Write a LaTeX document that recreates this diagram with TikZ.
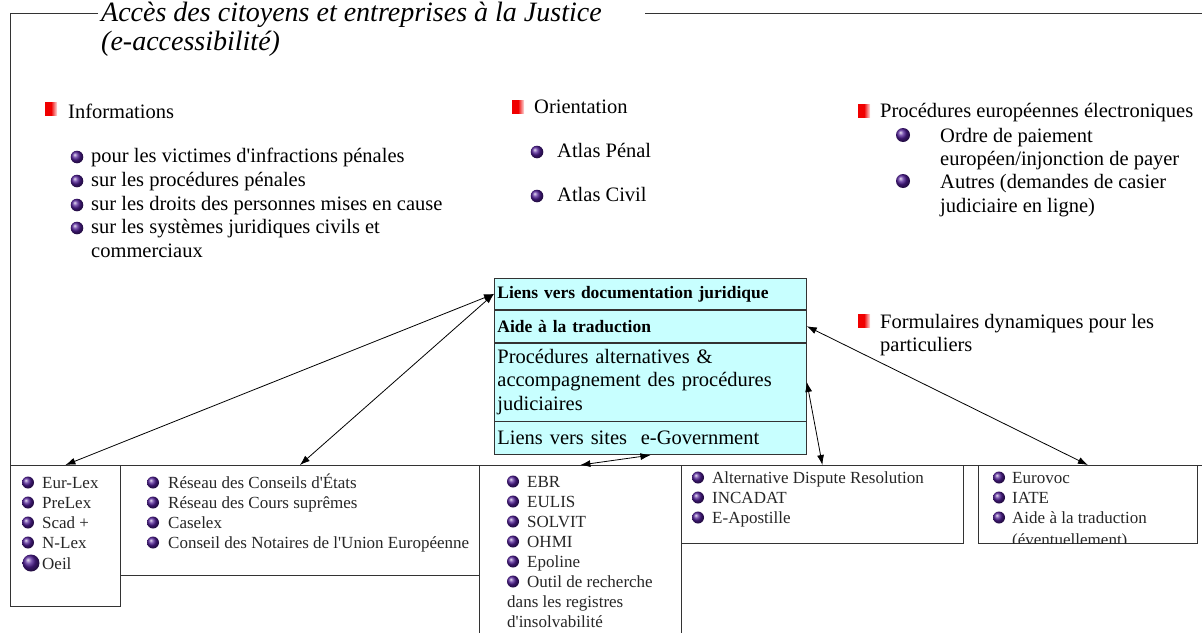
\documentclass[tikz,border=0pt]{standalone}
\usepackage{fontspec}
\setmainfont{Liberation Serif}
\usetikzlibrary{positioning,arrows.meta}
\definecolor{cyanclair}{RGB}{200,255,255}
\definecolor{puceviolet}{RGB}{80,30,150}
\definecolor{rouge}{RGB}{240,0,0}
\newcommand{\apos}{\textquotesingle}
\tikzset{
  pics/puce/.style={
    code={\shade[ball color=puceviolet] (0,0) circle (#1);}
  },
  pics/carre/.style={
    code={\shade[left color=rouge, right color=rouge!12, middle color=rouge] (0,0) rectangle (12,13);}
  },
  titre/.style={font=\fontsize{28pt}{30pt}\selectfont\itshape, anchor=base west, inner sep=0pt},
  texte/.style={font=\fontsize{20.5pt}{23.5pt}\selectfont, anchor=base west, inner sep=0pt},
  petit/.style={font=\fontsize{17pt}{20pt}\selectfont, text=black!85, anchor=base west, inner sep=0pt},
  ligne/.style={draw=black!80, fill=cyanclair, line width=0.8pt, minimum width=312pt, text width=306pt, inner xsep=3pt, inner ysep=0pt, align=left},
  boite/.style={draw=black!80, line width=0.8pt, anchor=north west, inner sep=0pt},
  cadre/.style={draw=black!80, line width=0.8pt},
  lien/.style={{Latex[length=10pt,width=7pt]}-{Latex[length=10pt,width=7pt]}, line width=0.8pt}
}
\begin{document}
\begin{tikzpicture}[x=1pt,y=-1pt]
	\clip (0,0) rectangle (1202,632);

	\node[titre] (titre) at (101,21) {Accès des citoyens et entreprises à la Justice};
	\node[titre] (titre2) at (101,50) {(e-accessibilité)};
	\draw[cadre] (98,13) -- (10,13) -- (10,465) -- (1202,465); %outer frame
	\draw[cadre] (645,13) -- (1202,13);

	%informations
	\pic at (45,102) {carre};
	\node[texte] (info) at (68,118) {Informations};
	\pic at (77,157) {puce=6.3};
	\node[texte] (info1) at (91,162) {pour les victimes d\apos infractions pénales};
	\pic at (77,181) {puce=6.3};
	\node[texte] (info2) at (91,186) {sur les procédures pénales};
	\pic at (77,205) {puce=6.3};
	\node[texte] (info3) at (91,210) {sur les droits des personnes mises en cause};
	\pic at (77,228) {puce=6.3};
	\node[texte] (info4) at (91,233) {sur les systèmes juridiques civils et};
	\node[texte] (info5) at (91,257) {commerciaux};

	%orientation
	\pic at (512,100) {carre};
	\node[texte] (orient) at (534,113) {Orientation};
	\pic at (537,152) {puce=6.3};
	\node[texte] (atlas1) at (557,157) {Atlas Pénal};
	\pic at (537,196) {puce=6.3};
	\node[texte] (atlas2) at (557,201) {Atlas Civil};

	%procedures europeennes
	\pic at (858,104) {carre};
	\node[texte] (proc) at (880,117) {Procédures européennes électroniques};
	\pic at (903,135) {puce=7};
	\node[texte] (proc1) at (940,142) {Ordre de paiement};
	\node[texte] (proc2) at (940,165) {européen/injonction de payer};
	\pic at (903,181) {puce=7};
	\node[texte] (proc3) at (940,188) {Autres (demandes de casier};
	\node[texte] (proc4) at (940,212) {judiciaire en ligne)};

	%formulaires
	\pic at (858,314) {carre};
	\node[texte] (form1) at (880,328) {Formulaires dynamiques pour les};
	\node[texte] (form2) at (880,351) {particuliers};

	%central box
	\node[ligne, anchor=north west, minimum height=31pt, font=\fontsize{17.5pt}{20pt}\selectfont\bfseries] (l1) at (494,278) {Liens vers documentation juridique};
	\node[ligne, below=0pt of l1, minimum height=32pt, font=\fontsize{17.5pt}{20pt}\selectfont\bfseries] (l2) {Aide à la traduction};
	\node[ligne, below=0pt of l2, minimum height=78pt, font=\fontsize{20.5pt}{23.5pt}\selectfont] (l3) {Procédures alternatives \&\\accompagnement des procédures\\judiciaires};
	\node[ligne, below=0pt of l3, minimum height=33pt, font=\fontsize{20.5pt}{23.5pt}\selectfont] (l4) {Liens vers sites\ \ e-Government};

	%boxes at the bottom
	\node[boite, minimum width=110pt, minimum height=141pt] (eurlex) at (10,465) {};
	\node[boite, minimum width=359pt, minimum height=110pt] (reseau) at (120,465) {};
	\node[boite, minimum width=202pt, minimum height=200pt] (ebr) at (479,465) {};
	\node[boite, minimum width=282pt, minimum height=78pt] (adr) at (681,465) {};
	\node[boite, minimum width=219pt, minimum height=78pt] (eurovoc) at (978,465) {};

	\pic at (28,482.5) {puce=6};
	\node[petit] (eur1) at (42,488) {Eur-Lex};
	\pic at (28,502.5) {puce=6};
	\node[petit] (eur2) at (42,508) {PreLex};
	\pic at (28,522.5) {puce=6};
	\node[petit] (eur3) at (42,528) {Scad +};
	\pic at (28,542.5) {puce=6};
	\node[petit] (eur4) at (42,548) {N-Lex};
	\pic at (31,563) {puce=8.5};
	\node[petit] (eur5) at (42,569) {Oeil};

	\pic at (153,482.5) {puce=6};
	\node[petit] (res1) at (168,488) {Réseau des Conseils d\apos États};
	\pic at (153,502.5) {puce=6};
	\node[petit] (res2) at (168,508) {Réseau des Cours suprêmes};
	\pic at (153,522.5) {puce=6};
	\node[petit] (res3) at (168,528) {Caselex};
	\pic at (153,542.5) {puce=6};
	\node[petit] (res4) at (168,548) {Conseil des Notaires de l\apos Union Européenne};

	\pic at (513,481.5) {puce=6};
	\node[petit] (ebr1) at (527,487) {EBR};
	\pic at (513,501.5) {puce=6};
	\node[petit] (ebr2) at (527,507) {EULIS};
	\pic at (513,521.5) {puce=6};
	\node[petit] (ebr3) at (527,527) {SOLVIT};
	\pic at (513,541.5) {puce=6};
	\node[petit] (ebr4) at (527,547) {OHMI};
	\pic at (513,561.5) {puce=6};
	\node[petit] (ebr5) at (527,567) {Epoline};
	\pic at (513,581.5) {puce=6};
	\node[petit] (ebr6) at (527,587) {Outil de recherche};
	\node[petit] (ebr7) at (507,607) {dans les registres};
	\node[petit] (ebr8) at (507,627) {d\apos insolvabilité};

	\pic at (698,477.5) {puce=6};
	\node[petit] (adr1) at (712,483) {Alternative Dispute Resolution};
	\pic at (698,497.5) {puce=6};
	\node[petit] (adr2) at (712,503) {INCADAT};
	\pic at (698,517.5) {puce=6};
	\node[petit] (adr3) at (712,523) {E-Apostille};

	\pic at (999,477.5) {puce=6};
	\node[petit] (voc1) at (1012,483) {Eurovoc};
	\pic at (999,497.5) {puce=6};
	\node[petit] (voc2) at (1012,503) {IATE};
	\pic at (999,517.5) {puce=6};
	\node[petit] (voc3) at (1012,523) {Aide à la traduction};
	\begin{scope}
		\clip (eurovoc.north west) rectangle (eurovoc.south east);
		\node[petit] (voc4) at (1012,545) {(éventuellement)}; %cut by the box
	\end{scope}

	%links from the central box
	\draw[lien] (l1.west) -- (eurlex.north);
	\draw[lien] (l1.west) -- (reseau.north);
	\draw[lien] (l4.south) -- (ebr.north);
	\draw[lien] (l3.east) -- (adr.north);
	\draw[lien] (l2.east) -- (eurovoc.north);

\end{tikzpicture}
\end{document}
